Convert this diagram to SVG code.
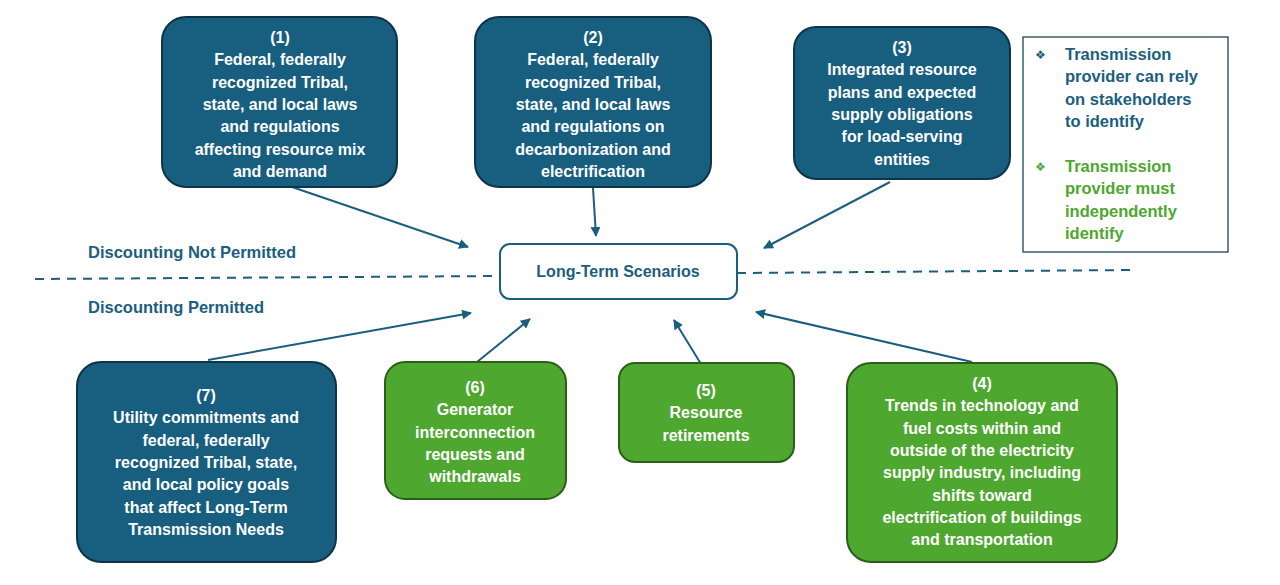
<svg xmlns="http://www.w3.org/2000/svg" width="1280" height="585" viewBox="0 0 1280 585">
<defs>
<marker id="ah" viewBox="0 0 10 10" refX="9" refY="5" markerWidth="5" markerHeight="5" orient="auto"><path d="M0,0 L10,5 L0,10 z" fill="#1B5E7E"/></marker>
<style>
.b{fill:#175E7F;stroke:#0D3447;stroke-width:2}
.g{fill:#4EA72E;stroke:#2C5E1A;stroke-width:2}
.t{font-family:"Liberation Sans",Arial,sans-serif;font-weight:bold;font-size:16px;fill:#fff;text-anchor:middle}
.l{font-family:"Liberation Sans",Arial,sans-serif;font-weight:bold;font-size:16.5px;fill:#1B5E7E}
.c{stroke:#1B5E7E;stroke-width:2;fill:none;marker-end:url(#ah)}
.d{stroke:#1B5E7E;stroke-width:2;stroke-dasharray:9,7;fill:none}
</style>
</defs>
<rect width="1280" height="585" fill="#fff"/>
<g id="connectors">
<path class="d" d="M35,279 L500,276"/>
<path class="d" d="M737,273 L1135,270"/>
<path class="c" d="M292,187 L468,247"/>
<path class="c" d="M593,188 L596,236"/>
<path class="c" d="M890,182 L764,248"/>
<path class="c" d="M208,360 L471,313"/>
<path class="c" d="M477,362 L530,319"/>
<path class="c" d="M701,364 L674,320"/>
<path class="c" d="M972,362 L756,312"/>
</g>
<text class="l" x="88" y="258">Discounting Not Permitted</text>
<text class="l" x="88" y="313">Discounting Permitted</text>
<g id="n1"><rect class="b" x="162" y="17" width="235" height="170" rx="24"/>
<text class="t" x="280" y="43">(1)<tspan x="280" dy="22.3">Federal, federally</tspan><tspan x="280" dy="22.3">recognized Tribal,</tspan><tspan x="280" dy="22.3">state, and local laws</tspan><tspan x="280" dy="22.3">and regulations</tspan><tspan x="280" dy="22.3">affecting resource mix</tspan><tspan x="280" dy="22.3">and demand</tspan></text></g>
<g id="n2"><rect class="b" x="475" y="17" width="236" height="170" rx="24"/>
<text class="t" x="593" y="43">(2)<tspan x="593" dy="22.3">Federal, federally</tspan><tspan x="593" dy="22.3">recognized Tribal,</tspan><tspan x="593" dy="22.3">state, and local laws</tspan><tspan x="593" dy="22.3">and regulations on</tspan><tspan x="593" dy="22.3">decarbonization and</tspan><tspan x="593" dy="22.3">electrification</tspan></text></g>
<g id="n3"><rect class="b" x="794" y="27" width="216" height="152" rx="22"/>
<text class="t" x="902" y="53">(3)<tspan x="902" dy="22.3">Integrated resource</tspan><tspan x="902" dy="22.3">plans and expected</tspan><tspan x="902" dy="22.3">supply obligations</tspan><tspan x="902" dy="22.3">for load-serving</tspan><tspan x="902" dy="22.3">entities</tspan></text></g>
<g id="legend"><rect x="1023" y="37" width="205" height="215" fill="#fff" stroke="#0D3447" stroke-width="1.2"/>
<text font-family="'DejaVu Sans',sans-serif" font-size="12" fill="#1B5E7E" x="1035" y="59">❖</text>
<text class="l" style="fill:#1B5E7E" x="1065" y="60">Transmission<tspan x="1065" dy="22.3">provider can rely</tspan><tspan x="1065" dy="22.3">on stakeholders</tspan><tspan x="1065" dy="22.3">to identify</tspan></text>
<text font-family="'DejaVu Sans',sans-serif" font-size="12" fill="#4EA72E" x="1035" y="171">❖</text>
<text class="l" style="fill:#4EA72E" x="1065" y="172">Transmission<tspan x="1065" dy="22.3">provider must</tspan><tspan x="1065" dy="22.3">independently</tspan><tspan x="1065" dy="22.3">identify</tspan></text></g>
<g id="center"><rect x="500" y="244" width="237" height="55" rx="10" fill="#fff" stroke="#1B5E7E" stroke-width="2"/>
<text class="t" style="fill:#1B5E7E" x="618" y="277">Long-Term Scenarios</text></g>
<g id="n7"><rect class="b" x="77" y="362" width="259" height="200" rx="24"/>
<text class="t" x="206" y="401">(7)<tspan x="206" dy="22.3">Utility commitments and</tspan><tspan x="206" dy="22.3">federal, federally</tspan><tspan x="206" dy="22.3">recognized Tribal, state,</tspan><tspan x="206" dy="22.3">and local policy goals</tspan><tspan x="206" dy="22.3">that affect Long-Term</tspan><tspan x="206" dy="22.3">Transmission Needs</tspan></text></g>
<g id="n6"><rect class="g" x="385" y="362" width="181" height="137" rx="20"/>
<text class="t" x="475" y="393">(6)<tspan x="475" dy="22.3">Generator</tspan><tspan x="475" dy="22.3">interconnection</tspan><tspan x="475" dy="22.3">requests and</tspan><tspan x="475" dy="22.3">withdrawals</tspan></text></g>
<g id="n5"><rect class="g" x="619" y="363" width="175" height="99" rx="16"/>
<text class="t" x="706" y="396">(5)<tspan x="706" dy="22.3">Resource</tspan><tspan x="706" dy="22.3">retirements</tspan></text></g>
<g id="n4"><rect class="g" x="847" y="363" width="270" height="199" rx="24"/>
<text class="t" x="982" y="389">(4)<tspan x="982" dy="22.3">Trends in technology and</tspan><tspan x="982" dy="22.3">fuel costs within and</tspan><tspan x="982" dy="22.3">outside of the electricity</tspan><tspan x="982" dy="22.3">supply industry, including</tspan><tspan x="982" dy="22.3">shifts toward</tspan><tspan x="982" dy="22.3">electrification of buildings</tspan><tspan x="982" dy="22.3">and transportation</tspan></text></g>
</svg>
